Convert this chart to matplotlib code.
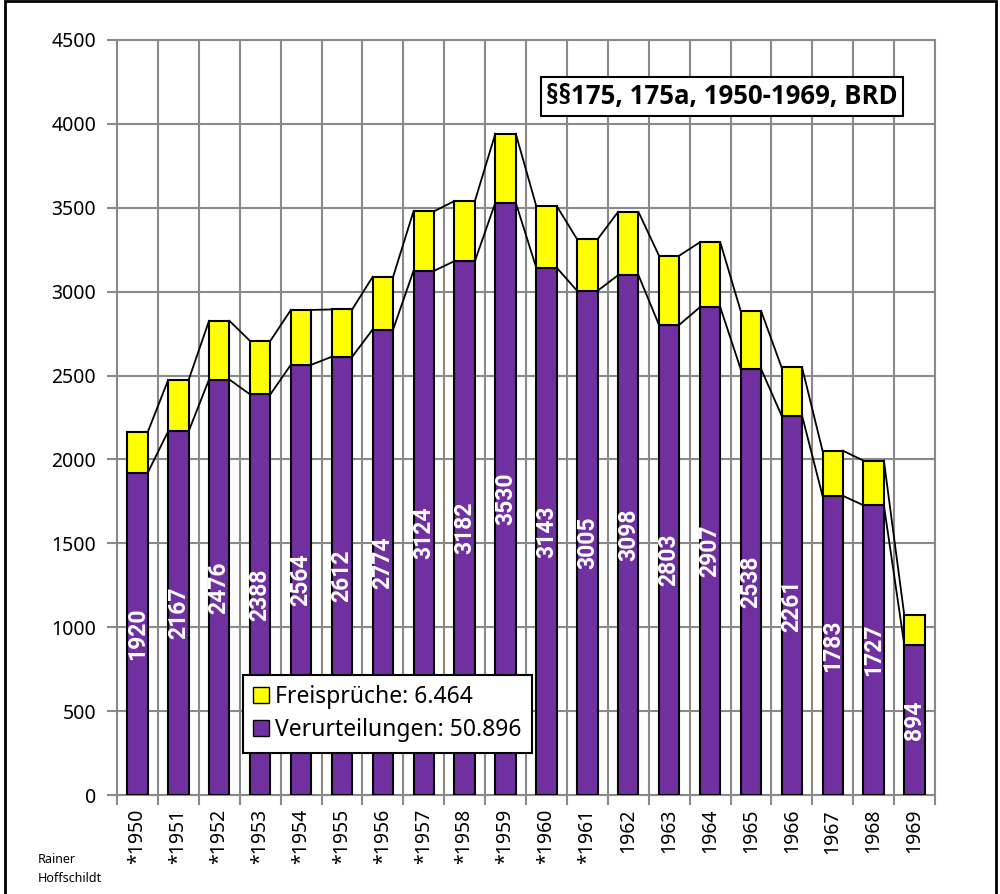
import matplotlib.pyplot as plt
from matplotlib.patches import Rectangle, Patch

years = ['*1950', '*1951', '*1952', '*1953', '*1954', '*1955', '*1956', '*1957', '*1958', '*1959',
         '*1960', '*1961', '1962', '1963', '1964', '1965', '1966', '1967', '1968', '1969']
verurteilungen = [1920, 2167, 2476, 2388, 2564, 2612, 2774, 3124, 3182, 3530,
                  3143, 3005, 3098, 2803, 2907, 2538, 2261, 1783, 1727, 894]
freisprueche = [242, 306, 350, 319, 327, 282, 314, 355, 358, 411,
                368, 307, 377, 412, 387, 346, 287, 269, 266, 176]

purple = '#7030A0'
yellow = '#FFFF00'
grid_c = '#8a8a8a'
label_font = 'Roboto'
tick_font = 'Noto Sans'
title_font = 'Open Sans'

fig = plt.figure(figsize=(10, 8.94), dpi=100)
ax = fig.add_axes([0.117, 0.1107, 0.818, 0.8446])

x = list(range(len(years)))
w = 0.5
ax.bar(x, verurteilungen, width=w, color=purple, edgecolor='black', linewidth=1.5, zorder=3)
ax.bar(x, freisprueche, width=w, bottom=verurteilungen, color=yellow, edgecolor='black',
       linewidth=1.5, zorder=3)

# series lines between bars
tops = [v + f for v, f in zip(verurteilungen, freisprueche)]
for i in range(len(x) - 1):
    ax.plot([x[i] + w / 2, x[i + 1] - w / 2], [verurteilungen[i], verurteilungen[i + 1]],
            color='black', lw=1.3, zorder=2)
    ax.plot([x[i] + w / 2, x[i + 1] - w / 2], [tops[i], tops[i + 1]],
            color='black', lw=1.3, zorder=2)

# value labels
for xi, v in zip(x, verurteilungen):
    ax.text(xi, v / 2, str(v), rotation=90, ha='center', va='center', color='white',
            fontsize=16.5, fontweight='bold', family=label_font, zorder=4)

ax.set_xlim(-0.5, len(years) - 0.5)
ax.set_ylim(0, 4500)
ax.set_yticks(range(0, 4501, 500))
ax.set_xticks(x)
ax.set_xticklabels(years, rotation=90, fontsize=14, family=tick_font)
ax.set_xticks([i - 0.5 for i in range(len(years) + 1)], minor=True)
ax.tick_params(axis='x', which='major', length=0, pad=10)
ax.tick_params(axis='x', which='minor', length=7, color=grid_c, width=1.5)
ax.tick_params(axis='y', length=7, color=grid_c, width=1.5, pad=8)
for lab in ax.get_yticklabels():
    lab.set_fontsize(14)
    lab.set_family(tick_font)

ax.grid(True, axis='y', which='major', color=grid_c, lw=1.5, zorder=0)
ax.grid(True, axis='x', which='minor', color=grid_c, lw=1.5, zorder=0)
for s in ax.spines.values():
    s.set_color(grid_c)
    s.set_linewidth(1.5)

# title box
ax.text(0.7396, 0.925, '§§175, 175a, 1950-1969, BRD', transform=ax.transAxes, ha='center',
        va='center', fontsize=18.5, fontweight='bold', family=title_font, zorder=5,
        bbox=dict(boxstyle='square,pad=0.22', facecolor='white', edgecolor='black', lw=1.5))

# legend
handles = [Patch(facecolor=yellow, edgecolor='black', label='Freisprüche: 6.464'),
           Patch(facecolor=purple, edgecolor='black', label='Verurteilungen: 50.896')]
leg = ax.legend(handles=handles, loc='upper left', bbox_to_anchor=(0.154, 0.159),
                prop={'family': tick_font, 'size': 16.5}, frameon=True, fancybox=False,
                framealpha=1, handlelength=0.7, handleheight=0.7, handletextpad=0.25,
                borderpad=0.45, labelspacing=0.4, borderaxespad=0)
leg.get_frame().set_edgecolor('black')
leg.get_frame().set_linewidth(1.5)
leg.set_zorder(6)

fig.text(0.038, 0.028, 'Rainer\nHoffschildt', fontsize=9, family=tick_font, ha='left',
         va='center', linespacing=1.6)

# outer frame
fig.patches.append(Rectangle((0.0045, -0.01), 0.991, 1.009, transform=fig.transFigure,
                             fill=False, edgecolor='black', lw=2))

fig.savefig('out.png', dpi=100)
